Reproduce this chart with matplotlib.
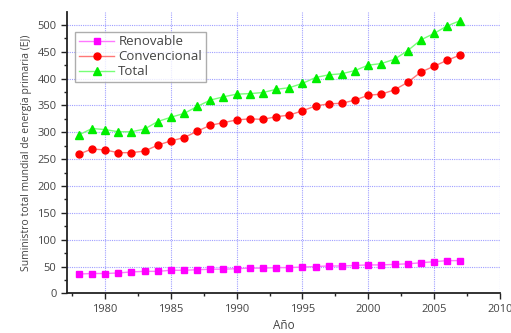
import matplotlib
matplotlib.use("Agg")
import matplotlib.pyplot as plt
from matplotlib.ticker import MultipleLocator

years = list(range(1978, 2008))
renovable = [36, 37, 37, 38, 40, 41, 41, 43, 43, 44, 45, 45, 46, 47, 47,
             48, 48, 49, 50, 51, 51, 52, 53, 53, 54, 55, 57, 59, 61, 61]
convencional = [259, 269, 267, 262, 262, 265, 276, 284, 290, 302, 313, 318, 323, 325, 324,
                329, 332, 340, 349, 353, 354, 360, 369, 371, 379, 393, 412, 423, 434, 444]
total = [295, 307, 305, 301, 301, 306, 320, 328, 335, 348, 360, 366, 371, 372, 374,
         380, 383, 391, 402, 407, 409, 415, 425, 428, 436, 452, 472, 484, 498, 508]

plt.rcParams['font.family'] = ['Open Sans', 'DejaVu Sans']
fig = plt.figure(figsize=(5.11, 3.33), dpi=100)
ax = fig.add_axes([0.131, 0.119, 0.847, 0.845])

ax.plot(years, renovable, color='#ff77ff', lw=1, marker='s', ms=4.3,
        mfc='#ff00ff', mec='#ff00ff', label='Renovable')
ax.plot(years, convencional, color='#ff7777', lw=1, marker='o', ms=5,
        mfc='#ff0000', mec='#ff0000', label='Convencional')
ax.plot(years, total, color='#77ff77', lw=1, marker='^', ms=5.5,
        mfc='#00ee00', mec='#00ee00', label='Total')

ax.set_xlim(1977.1, 2010)
ax.set_ylim(0, 524)
ax.xaxis.set_major_locator(MultipleLocator(5))
ax.xaxis.set_minor_locator(MultipleLocator(2.5))
ax.yaxis.set_major_locator(MultipleLocator(50))
ax.yaxis.set_minor_locator(MultipleLocator(25))
ax.grid(True, which='major', color='#7777ff', ls=(0, (1, 1)), lw=0.8, alpha=0.7)

for s in ['top', 'right']:
    ax.spines[s].set_visible(False)
for s in ['left', 'bottom']:
    ax.spines[s].set_linewidth(1.3)
    ax.spines[s].set_color('#222222')

ax.tick_params(which='major', length=4, width=1, colors='#222222', labelcolor='#444444', labelsize=8)
ax.tick_params(which='minor', length=2.5, width=1, colors='#222222')

ax.set_xlabel('Año', fontsize=8.5, color='#444444', labelpad=3)
ax.set_ylabel('Suministro total mundial de energía primaria (EJ)', fontsize=7.5, color='#444444', labelpad=4)

leg = ax.legend(loc='upper left', bbox_to_anchor=(0.012, 0.94), fontsize=9.5, frameon=True,
                fancybox=False, edgecolor='#999999', borderpad=0.3, labelspacing=0.15,
                handlelength=2.7, handletextpad=0.3, borderaxespad=0.2)
leg.get_frame().set_linewidth(1)
for t in leg.get_texts():
    t.set_color('#444444')

fig.savefig('out.png', dpi=100)
